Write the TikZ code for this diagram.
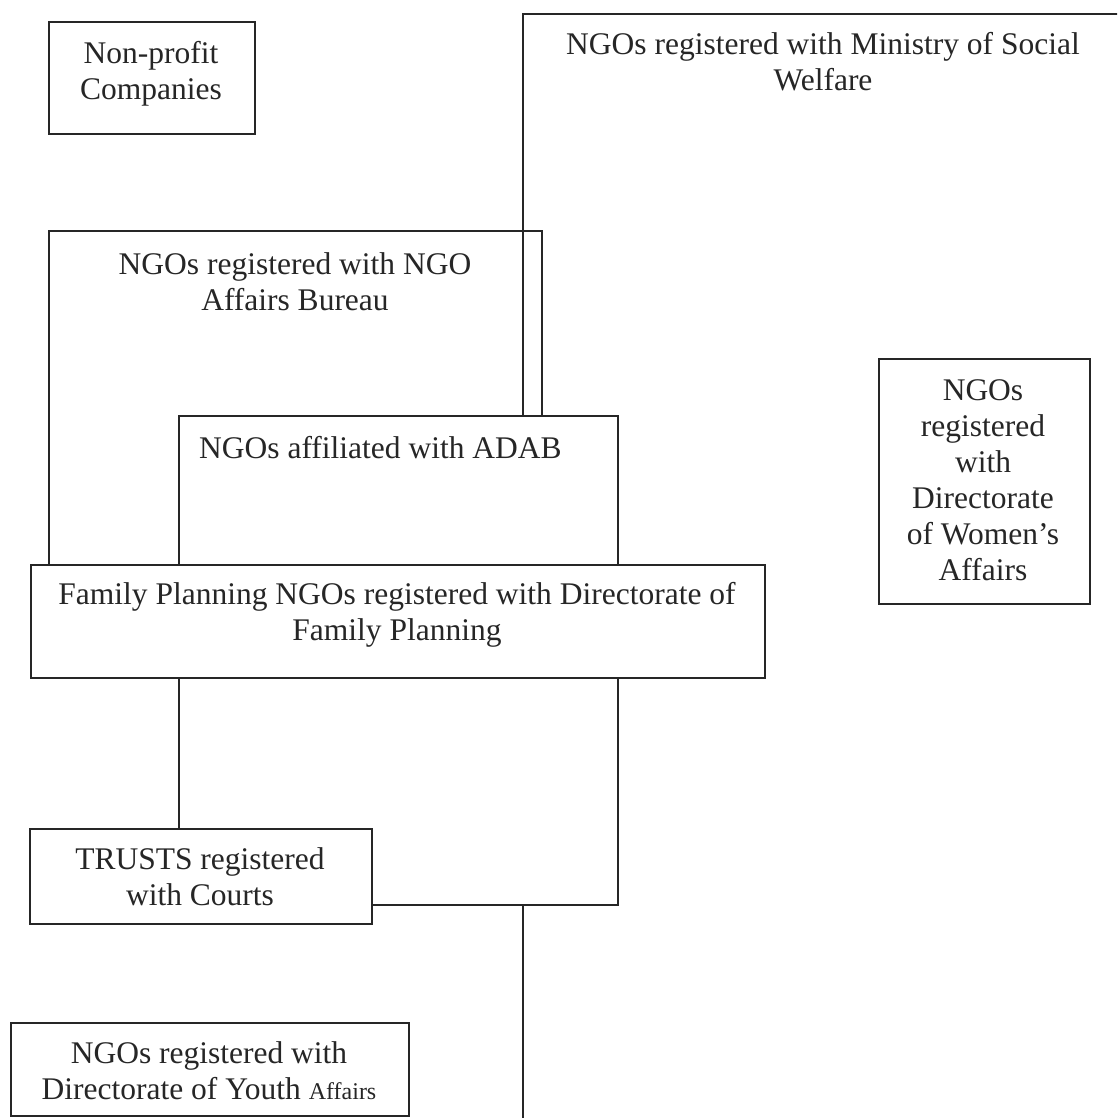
\documentclass[tikz,border=0pt]{standalone}
\usepackage{fontspec}
\setmainfont{Liberation Serif}
\begin{document}
\begin{tikzpicture}[x=1pt,y=-1pt,
  box/.style={draw=black!85, line width=1.7pt, fill=white, anchor=north west, inner sep=0pt},
  openbox/.style={box, fill=none},
  txt/.style={font=\fontsize{31.5}{36}\selectfont, align=center, inner sep=0pt, anchor=north, text=black!85}]
\path[use as bounding box, clip] (0,0) rectangle (1117,1118);
\fill[white] (0,0) rectangle (1117,1118);
% NGO Affairs Bureau (open, so the Ministry line shows through)
\node[openbox, minimum width=493pt, minimum height=390pt] (nab) at (48,230) {};
\node[txt] (nabt) at (295,252) {NGOs registered with NGO\\Affairs Bureau};
% Ministry of Social Welfare (large, extends beyond the page)
\node[openbox, minimum width=620pt, minimum height=1200pt] (msw) at (522,13) {};
\node[txt] (mswt) at (823,32) {NGOs registered with Ministry of Social\\Welfare};
% Non-profit companies
\node[box, minimum width=206pt, minimum height=112pt] (npc) at (48,21) {};
\node[txt] (npct) at (151,41) {Non-profit\\Companies};
% Women's affairs
\node[box, minimum width=211pt, minimum height=245pt] (dwa) at (878,358) {};
\node[txt] (dwat) at (983,379) {NGOs\\registered\\with\\Directorate\\of Women's\\Affairs};
% ADAB
\node[box, minimum width=439pt, minimum height=489pt] (adab) at (178,415) {};
\node[txt, anchor=north west] (adabt) at (199,436) {NGOs affiliated with ADAB};
% Family planning
\node[box, minimum width=734pt, minimum height=113pt] (fp) at (30,564) {};
\node[txt] (fpt) at (397,582) {Family Planning NGOs registered with Directorate of\\Family Planning};
% Trusts
\node[box, minimum width=342pt, minimum height=95pt] (tr) at (29,828) {};
\node[txt] (trt) at (200,847) {TRUSTS registered\\with Courts};
% Youth affairs
\node[box, minimum width=398pt, minimum height=93pt] (ya) at (10,1022) {};
\node[txt] (yat) at (209,1041) {NGOs registered with\\Directorate of Youth {\fontsize{24}{36}\selectfont Affairs}};
\end{tikzpicture}
\end{document}
